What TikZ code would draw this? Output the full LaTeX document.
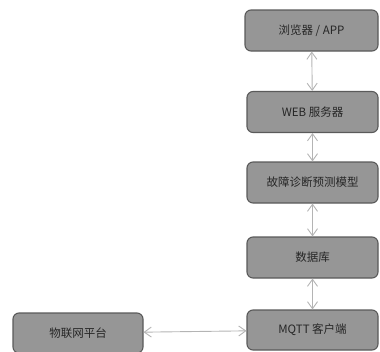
\documentclass[tikz,border=0pt]{standalone}
\usepackage{fontspec}
\setmainfont{Noto Sans CJK SC}
\usetikzlibrary{arrows.meta}
\definecolor{boxfill}{HTML}{969696}
\definecolor{boxline}{HTML}{5A5A5A}
\definecolor{arrowc}{HTML}{B4B4B4}
\definecolor{textc}{HTML}{262626}
\tikzset{
  stepbox/.style={draw=boxline, fill=boxfill, line width=1.1pt, rounded corners=6pt,
    minimum width=131pt, minimum height=41pt, inner sep=0pt, text=textc,
    font=\fontsize{11.5pt}{13pt}\selectfont},
  link/.style={draw=arrowc, line width=0.9pt,
    {Straight Barb[length=7pt,width=10pt]}-{Straight Barb[length=7pt,width=10pt]}}
}
\begin{document}
\begin{tikzpicture}[x=1pt,y=-1pt]
\useasboundingbox (0,0) rectangle (380,351);
\begin{scope}
\clip (0,0) rectangle (380,351);
\node[stepbox, minimum width=133pt] (b1) at (311.5,30.5) {浏览器 / APP};
\node[stepbox] (b2) at (312.5,112) {WEB 服务器};
\node[stepbox] (b3) at (312.5,182.5) {故障诊断预测模型};
\node[stepbox] (b4) at (312.5,257.5) {数据库};
\node[stepbox, minimum height=40pt] (b5) at (312.5,330) {MQTT 客户端};
\node[stepbox, minimum width=130pt, minimum height=40pt] (b6) at (78,333) {物联网平台};
\draw[link] (b1) -- (b2);
\draw[link] (b2) -- (b3);
\draw[link] (b3) -- (b4);
\draw[link] (b4) -- (b5);
\draw[link] (b6) -- (b5);
\end{scope}
\end{tikzpicture}
\end{document}
